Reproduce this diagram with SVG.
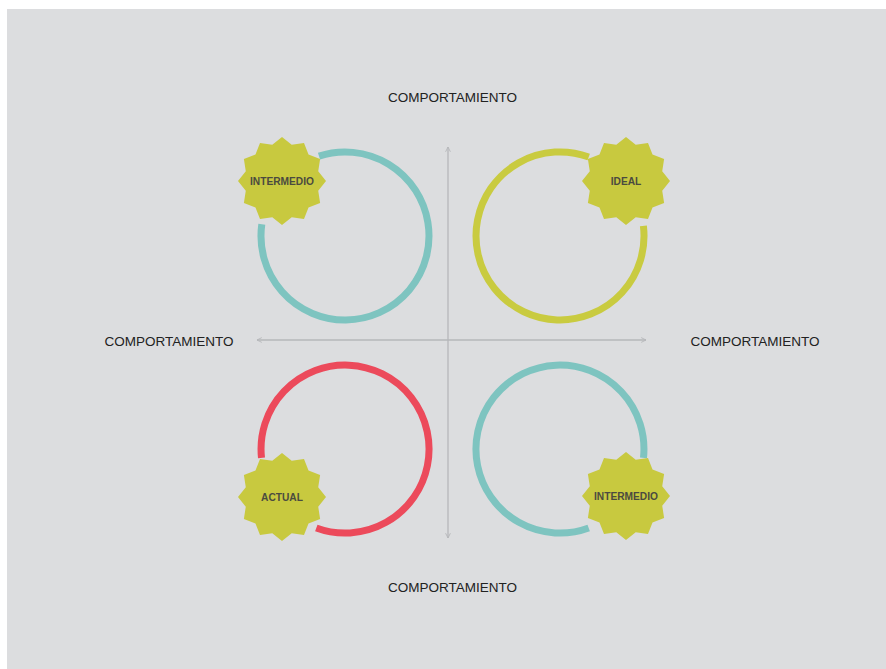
<svg xmlns="http://www.w3.org/2000/svg" width="886" height="669" viewBox="0 0 886 669">
<style>
.bg{fill:#dcdddf}
.axis{stroke:#b6b7ba;stroke-width:1.3;fill:none}
.ring{fill:none;stroke-width:7;stroke-linecap:butt}
.teal{stroke:#7ec4c0}
.red{stroke:#ec4a5b}
.yel{stroke:#c9cb40}
.lbl{font-family:"Liberation Sans",Arial,sans-serif;font-size:13.5px;fill:#222;text-anchor:middle}
.badge{fill:#c8c93f}
.btxt{font-family:"Liberation Sans",Arial,sans-serif;font-size:10.2px;font-weight:bold;fill:#4b4b3f;text-anchor:middle}
</style>
<defs>
<marker id="arr" viewBox="0 0 10 10" refX="9" refY="5" markerWidth="6" markerHeight="6" orient="auto-start-reverse" markerUnits="userSpaceOnUse">
<path d="M1,1 L9,5 L1,9" fill="none" stroke="#b6b7ba" stroke-width="1.5"/>
</marker>
<polygon id="star" points="0,-44 9.71,-36.22 22,-38.11 26.52,-26.52 38.11,-22 36.22,-9.71 44,0 36.22,9.71 38.11,22 26.52,26.52 22,38.11 9.71,36.22 0,44 -9.71,36.22 -22,38.11 -26.52,26.52 -38.11,22 -36.22,9.71 -44,0 -36.22,-9.71 -38.11,-22 -26.52,-26.52 -22,-38.11 -9.71,-36.22"/>
</defs>
<rect class="bg" x="7" y="9" width="879" height="660"/>
<g id="connectors">
<line class="axis" x1="448" y1="538" x2="448" y2="147" marker-end="url(#arr)" marker-start="url(#arr)"/>
<line class="axis" x1="257" y1="340" x2="646" y2="340" marker-end="url(#arr)" marker-start="url(#arr)"/>
</g>
<g id="labels">
<text class="lbl" x="452.5" y="102">COMPORTAMIENTO</text>
<text class="lbl" x="169" y="346">COMPORTAMIENTO</text>
<text class="lbl" x="755" y="346">COMPORTAMIENTO</text>
<text class="lbl" x="452.5" y="592">COMPORTAMIENTO</text>
</g>
<g id="ring-top-left">
<path class="ring teal" d="M319,156.1 A84,84 0 1 1 261.8,224.3"/>
</g>
<g id="ring-top-right">
<path class="ring yel" d="M643.4,225.8 A84,84 0 1 1 588.7,157"/>
</g>
<g id="ring-bottom-left">
<path class="ring red" d="M261.5,457.8 A84,84 0 1 1 316.3,528"/>
</g>
<g id="ring-bottom-right">
<path class="ring teal" d="M588.7,528 A84,84 0 1 1 643.5,457.8"/>
</g>
<g id="badge-intermedio-top">
<use href="#star" class="badge" x="282" y="181"/>
<text class="btxt" x="282" y="184.5">INTERMEDIO</text>
</g>
<g id="badge-ideal">
<use href="#star" class="badge" x="626" y="181"/>
<text class="btxt" x="626" y="184.5">IDEAL</text>
</g>
<g id="badge-actual">
<use href="#star" class="badge" x="282" y="497"/>
<text class="btxt" x="282" y="500.5">ACTUAL</text>
</g>
<g id="badge-intermedio-bottom">
<use href="#star" class="badge" x="626" y="496"/>
<text class="btxt" x="626" y="499.5">INTERMEDIO</text>
</g>
</svg>
